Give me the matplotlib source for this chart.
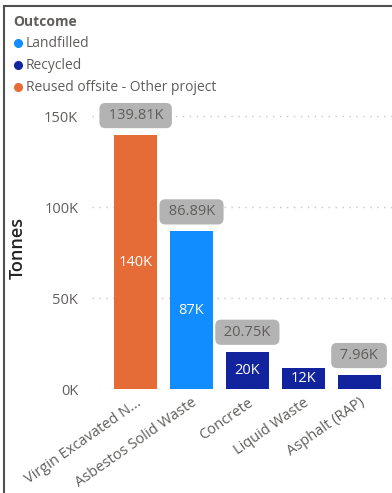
import matplotlib.pyplot as plt
import numpy as np
from matplotlib.lines import Line2D

plt.rcParams["font.family"] = ["Open Sans", "DejaVu Sans"]

# waste streams, tonnes in thousands
categories = ["Virgin Excavated N...", "Asbestos Solid Waste", "Concrete",
              "Liquid Waste", "Asphalt (RAP)"]
outcomes = ["Landfilled", "Recycled", "Reused offsite - Other project"]
landfilled = [0.0, 86.89, 0.35, 0.0, 0.0]
recycled = [0.0, 0.0, 20.40, 12.03, 7.96]
reused = [139.81, 0.0, 0.0, 0.0, 0.0]
show_total = [True, True, True, False, True]

colors = {"Landfilled": "#118DFF", "Recycled": "#12239E",
          "Reused offsite - Other project": "#E66C37"}
grey = "#605E5C"

fig = plt.figure(figsize=(3.92, 4.93), dpi=100)
ax = fig.add_axes([0.235, 0.21, 0.765, 0.587])

x = np.arange(len(categories))
width = 0.77
series = {"Landfilled": landfilled, "Recycled": recycled,
          "Reused offsite - Other project": reused}
bottom = np.zeros(len(categories))
for name in ["Reused offsite - Other project", "Landfilled", "Recycled"]:
    vals = np.array(series[name])
    ax.bar(x, vals, width, bottom=bottom, color=colors[name], zorder=3)
    # value labels inside the segment when it is tall enough
    for xi, v, b in zip(x, vals, bottom):
        if v >= 10:
            ax.text(xi, b + v / 2, f"{v:.0f}K", ha="center", va="center",
                    color="white", fontsize=10.5, zorder=4)
    bottom += vals

totals = np.array(landfilled) + np.array(recycled) + np.array(reused)

ax.set_xlim(-0.78, 4.59)
ax.set_ylim(0, 159)

# total labels in grey rounded boxes
for xi, t, show in zip(x, totals, show_total):
    if not show:
        continue
    ax.annotate(f" {t:.2f}K ", xy=(xi, t), xytext=(0, 14),
                textcoords="offset points", ha="center", va="center",
                fontsize=10.5, color=grey, zorder=5,
                bbox=dict(boxstyle="round,pad=0.35,rounding_size=0.4",
                          fc="#B3B3B3", ec="none"))

ax.set_yticks([0, 50, 100, 150])
ax.set_yticklabels(["0K", "50K", "100K", "150K"])
ax.set_xticks(x)
ax.set_xticklabels(categories, rotation=35, ha="right", rotation_mode="anchor")
ax.tick_params(axis="both", length=0, colors=grey, labelsize=10.5)
ax.tick_params(axis="y", pad=10)
ax.tick_params(axis="x", pad=4)
ax.grid(axis="y", linestyle=(0, (1, 4)), color="#C8C6C4", linewidth=1, zorder=0)
for s in ax.spines.values():
    s.set_visible(False)

fig.text(0.045, 0.497, "Tonnes", rotation=90, ha="center", va="center",
         fontsize=13, color="#252423", fontweight="semibold")

# legend
fig.text(0.033, 0.955, "Outcome", fontsize=10, fontweight="bold", color=grey,
         va="center")
for i, name in enumerate(outcomes):
    yy = 0.912 - i * 0.0446
    fig.add_artist(Line2D([0.046], [yy], marker="o", markersize=5.5,
                          color=colors[name], linestyle="none",
                          transform=fig.transFigure))
    fig.text(0.066, yy, name, fontsize=10, color=grey, va="center")

# frame lines at top and left
fig.add_artist(Line2D([0.011, 1.0], [0.987, 0.987], color="#505050",
                      linewidth=1.5, transform=fig.transFigure))
fig.add_artist(Line2D([0.011, 0.011], [0.0, 0.987], color="#505050",
                      linewidth=1.5, transform=fig.transFigure))

fig.savefig("out.png", dpi=100)
